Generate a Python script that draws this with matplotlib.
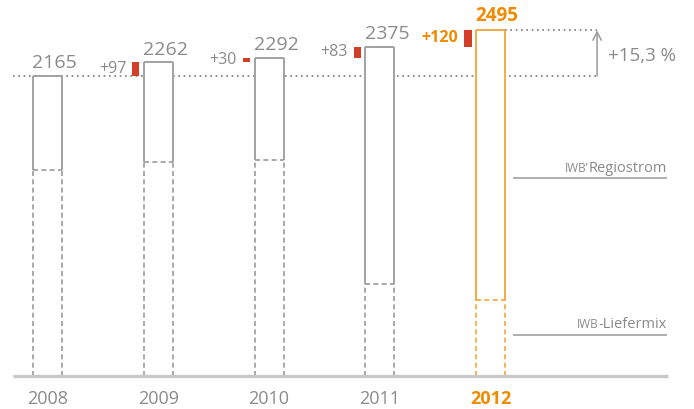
import matplotlib.pyplot as plt
import numpy as np

years = ['2008', '2009', '2010', '2011', '2012']
total = [2165, 2262, 2292, 2375, 2495]
liefermix = [1489, 1542, 1558, 664, 548]
increments = ['', '+97', '+30', '+83', '+120']
growth_label = '+15,3 %'

GRAY = '#9b9b9b'
TEXT = '#8a8a8a'
ORANGE = '#f5a43c'
ORANGE_TXT = '#f08a00'
RED = '#d13f29'
AXIS = '#c9c9c9'

plt.rcParams['font.family'] = ['Open Sans', 'DejaVu Sans']

fig = plt.figure(figsize=(6.94, 4.10), dpi=100)
ax = fig.add_axes([0, 0, 1, 1])
ax.set_xlim(-0.429, 5.837)
ax.set_ylim(-238, 2720)
ax.axis('off')

x = np.arange(len(years))
w = 0.262
last = len(years) - 1
arrow_x = 4.962

# reference dotted lines
ax.hlines(total[0], -0.312, arrow_x, colors='#7a7a7a', lw=1.2,
          linestyles=(0, (1, 2.2)), zorder=1)
ax.hlines(total[-1], x[-1] + w / 2, arrow_x, colors='#7a7a7a', lw=1.2,
          linestyles=(0, (1, 2.2)), zorder=1)

for i in x:
    c = ORANGE if i == last else GRAY
    l, r = i - w / 2, i + w / 2
    ax.bar(i, total[i], w, color='white', zorder=2)
    ax.vlines([l, r], liefermix[i], total[i], colors=c, lw=1.3, zorder=3)
    ax.hlines(total[i], l, r, colors=c, lw=1.3, zorder=3)
    ax.vlines([l, r], 0, liefermix[i], colors=c, lw=1.2,
              linestyles=(0, (3, 2)), zorder=3)
    ax.hlines(liefermix[i], l, r, colors=c, lw=1.2,
              linestyles=(0, (3, 2)), zorder=3)

    bold = i == last
    ax.text(l - 0.005, total[i] + 35, str(total[i]), ha='left', va='bottom',
            fontsize=14 if not bold else 13.5,
            fontweight='bold' if bold else 'normal',
            color=ORANGE_TXT if bold else TEXT)
    ax.text(i, -160, years[i], ha='center', va='center', fontsize=13,
            fontweight='bold' if bold else 'normal',
            color=ORANGE_TXT if bold else TEXT)

    if i > 0:
        prev = total[i - 1]
        ax.bar(i - 0.203, total[i] - prev, 0.065, bottom=prev, color=RED,
               zorder=3)
        ax.text(i - 0.29, (prev + total[i]) / 2 + 8, increments[i],
                ha='right', va='center', fontsize=11.5,
                fontweight='bold' if bold else 'normal',
                color=ORANGE_TXT if bold else TEXT)

# axis line
ax.hlines(0, -0.312, 5.605, colors=AXIS, lw=2.4, zorder=4)

# growth arrow
ax.annotate('', xy=(arrow_x, total[-1]), xytext=(arrow_x, total[0]),
            arrowprops=dict(arrowstyle='->,head_length=0.6,head_width=0.3',
                            color=GRAY, lw=1.1, shrinkA=0, shrinkB=0))
ax.text(arrow_x + 0.1, (total[0] + total[-1]) / 2 - 15, growth_label,
        ha='left', va='center', fontsize=13.5, color=TEXT)

# legend labels
for name, ytxt, yline in [('Regiostrom', 1479, 1428), ('-Liefermix', 353, 296)]:
    ax.hlines(yline, 4.203, 5.594, colors='#a8a8a8', lw=1.3)
    t = ax.text(5.594, ytxt, name, ha='right', va='baseline', fontsize=10.5,
                color=TEXT)
    pre = 'IWB’' if name == 'Regiostrom' else 'IWB'
    ax.annotate(pre, xy=(0, 0), xycoords=t, xytext=(-0.3, 0.8),
                textcoords='offset points', ha='right', va='bottom',
                fontsize=8.5, color=TEXT)

fig.savefig('out.png', dpi=100)
